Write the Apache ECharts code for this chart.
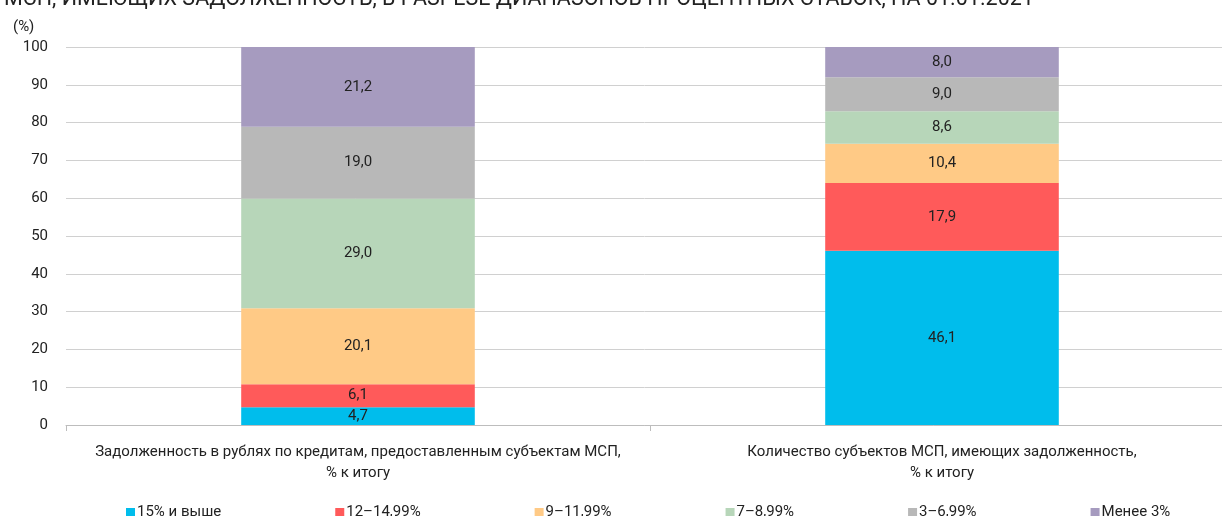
<!DOCTYPE html>
<html>
<head>
<meta charset="utf-8">
<script src="https://cdn.jsdelivr.net/npm/echarts@6/dist/echarts.min.js"></script>
<style>
  html, body { margin: 0; padding: 0; background: #fff; }
  #chart { width: 1222px; height: 516px; }
</style>
</head>
<body>
<div id="chart"></div>
<script>
const categories = [
  'Задолженность в рублях по кредитам, предоставленным субъектам МСП,\n% к итогу',
  'Количество субъектов МСП, имеющих задолженность,\n% к итогу'
]
const seriesNames = ['15% и выше', '12–14,99%', '9–11,99%', '7–8,99%', '3–6,99%', 'Менее 3%']
const seriesColors = ['#00bdec', '#ff5a5a', '#ffca86', '#b7d6b9', '#b8b8b8', '#a69bbf']
const seriesValues = [
  [4.7, 46.1],
  [6.1, 17.9],
  [20.1, 10.4],
  [29.0, 8.6],
  [19.0, 9.0],
  [21.2, 8.0]
]
const yTicks = { min: 0, max: 100, interval: 10 }

const font = 'Roboto, "Noto Sans", sans-serif'
const chart = echarts.init(document.getElementById('chart'))

chart.setOption({
  animation: false,
  textStyle: { fontFamily: font },
  title: [
    {
      text: 'МСП, ИМЕЮЩИХ ЗАДОЛЖЕННОСТЬ, В РАЗРЕЗЕ ДИАПАЗОНОВ ПРОЦЕНТНЫХ СТАВОК, НА 01.01.2021',
      left: -1, top: -16,
      textStyle: { fontFamily: font, fontSize: 21.5, fontWeight: 'normal', color: '#222' }
    },
    {
      text: '(%)',
      left: 8, top: 15,
      textStyle: { fontFamily: font, fontSize: 15, fontWeight: 'normal', color: '#222' }
    }
  ],
  grid: { left: 66, width: 1168, top: 47, bottom: 91, containLabel: false, outerBoundsMode: 'none' },
  legend: {
    top: 500, left: 121,
    itemWidth: 9, itemHeight: 9, itemGap: 114,
    icon: 'rect',
    textStyle: { fontFamily: font, fontSize: 15, color: '#222', padding: [0, 0, 0, -3] },
    data: seriesNames
  },
  xAxis: {
    type: 'category',
    data: categories,
    axisLine: { lineStyle: { color: '#bdbdbd', width: 1 } },
    axisTick: { show: true, length: 6, lineStyle: { color: '#bdbdbd' } },
    axisLabel: { interval: 0, fontFamily: font, fontSize: 15, color: '#222', lineHeight: 21, margin: 17 }
  },
  yAxis: {
    type: 'value',
    min: yTicks.min, max: yTicks.max, interval: yTicks.interval,
    axisLine: { show: false },
    axisTick: { show: false },
    splitLine: { lineStyle: { color: '#d0d0d0', width: 1 } },
    axisLabel: { fontFamily: font, fontSize: 15, color: '#222', margin: 18 }
  },
  series: seriesNames.map((name, i) => ({
    type: 'bar',
    name,
    stack: 'total',
    barWidth: '40%',
    itemStyle: { color: seriesColors[i] },
    label: {
      show: true,
      position: 'inside',
      fontFamily: font,
      fontSize: 15,
      color: '#222',
      formatter: p => p.value.toFixed(1).replace('.', ',')
    },
    data: seriesValues[i]
  }))
})
</script>
</body>
</html>
